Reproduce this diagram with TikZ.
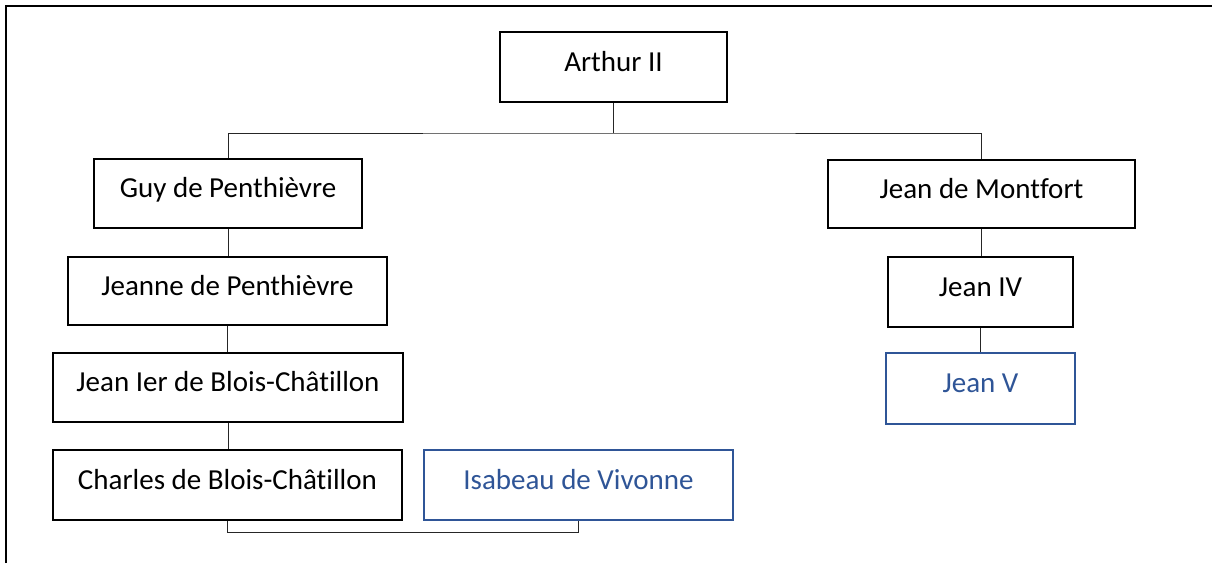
\documentclass[tikz,border=0pt]{standalone}
\usepackage{fontspec}
\setmainfont[Ligatures=NoCommon,Contextuals=NoAlternate]{Carlito}
\definecolor{offblue}{RGB}{47,85,151}
\begin{document}
\begin{tikzpicture}[x=1pt,y=-1pt,
  person/.style={draw=black,line width=2.7pt,inner sep=0pt,text height=20pt,text depth=12pt,
    font=\fontsize{29}{34}\selectfont,fill=white},
  blueperson/.style={person,draw=offblue,text=offblue},
  link/.style={draw=black!85,line width=1pt}]
\useasboundingbox (0,0) rectangle (1212,563);
\draw[line width=2pt] (6,563) -- (6,6) -- (1212,6);
\node[person,minimum width=227pt,minimum height=70pt] (arthur) at (613.5,67) {Arthur II};
\node[person,minimum width=268pt,minimum height=69pt] (guy) at (228,193.5) {Guy de Penthièvre};
\node[person,minimum width=307pt,minimum height=68pt] (montfort) at (981.5,194) {Jean de Montfort};
\node[person,minimum width=319pt,minimum height=68pt] (jeanne) at (227.5,291) {Jeanne de Penthièvre};
\node[person,minimum width=185pt,minimum height=70pt] (jeaniv) at (980.5,292) {Jean IV};
\node[blueperson,minimum width=189pt,minimum height=71pt] (jeanv) at (980.5,388.5) {Jean V};
\node[person,minimum width=350pt,minimum height=69pt] (jeanier) at (228,387.5) {Jean Ier de Blois-Châtillon};
\node[person,minimum width=349pt,minimum height=70pt] (charles) at (227.5,485) {Charles de Blois-Châtillon};
\node[blueperson,minimum width=309pt,minimum height=70pt] (isabeau) at (578.5,485) {Isabeau de Vivonne};
\coordinate (bus) at (613.5,133);
\coordinate (mar) at (400,532);
\draw[link] (arthur.south) -- (bus);
\draw[link] (guy.north) |- (bus) -| (montfort.north);
\draw[link] (guy.south) -- (guy.south |- jeanne.north);
\draw[link] (jeanne.south) -- (jeanne.south |- jeanier.north);
\draw[link] (jeanier.south) -- (jeanier.south |- charles.north);
\draw[link] (montfort.south) -- (montfort.south |- jeaniv.north);
\draw[link] (jeaniv.south) -- (jeaniv.south |- jeanv.north);
\draw[link] (charles.south) |- (mar) -| (isabeau.south);
\end{tikzpicture}
\end{document}
